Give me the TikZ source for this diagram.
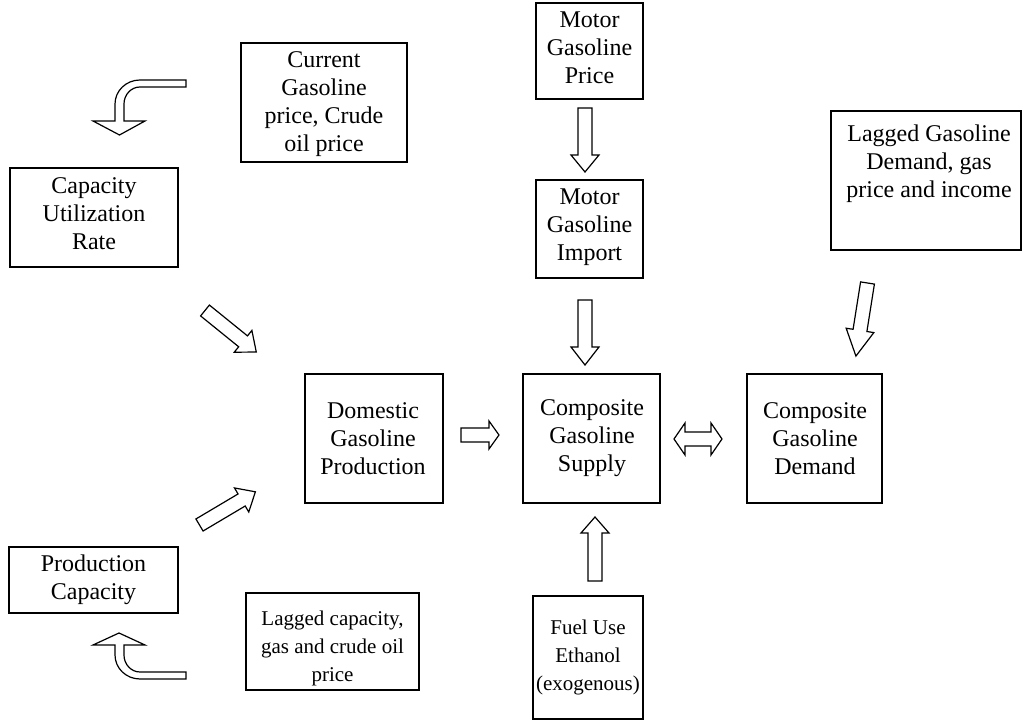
\documentclass[tikz,border=0pt]{standalone}
\usepackage{fontspec}
\setmainfont{Liberation Serif}
\tikzset{
  boxtext/.style={align=center, inner sep=0pt, font=\fontsize{12}{14}\selectfont},
  smalltext/.style={boxtext, font=\fontsize{10.5}{14}\selectfont},
  blockline/.style={draw, line width=0.6pt, fill=white, line join=miter},
  pics/fatarrow/.style n args={2}{code={
    \draw[blockline] (0,-7) -- ({#1-#2},-7) -- ({#1-#2},-14) -- (#1,0)
      -- ({#1-#2},14) -- ({#1-#2},7) -- (0,7) -- cycle;}}
}
\begin{document}
\begin{tikzpicture}[x=0.5pt,y=-0.5pt]
\useasboundingbox (0,0) rectangle (1024,726);
% boxes
\draw[line width=0.6pt] (241,43) rectangle (407,162);
\node[boxtext] (curprice) at (324,104) {Current\\Gasoline\\price, Crude\\oil price};
\draw[line width=0.6pt] (536,3) rectangle (643,99);
\node[boxtext] (mgprice) at (589.5,48) {Motor\\Gasoline\\Price};
\draw[line width=0.6pt] (10,168) rectangle (178,267);
\node[boxtext] (caputil) at (94,214) {Capacity\\Utilization\\Rate};
\draw[line width=0.6pt] (536,180) rectangle (643,278);
\node[boxtext] (mgimport) at (589.5,227) {Motor\\Gasoline\\Import};
\draw[line width=0.6pt] (831,111) rectangle (1021,250);
\node[boxtext] (lagdemand) at (929,164) {Lagged Gasoline\\Demand, gas\\price and income};
\draw[line width=0.6pt] (305,374) rectangle (443,503);
\node[boxtext] (domprod) at (373,438.5) {Domestic\\Gasoline\\Production};
\draw[line width=0.6pt] (523,374) rectangle (660,503);
\node[boxtext] (compsupply) at (592,438.5) {Composite\\Gasoline\\Supply};
\draw[line width=0.6pt] (747,374) rectangle (882,503);
\node[boxtext] (compdemand) at (815,438.5) {Composite\\Gasoline\\Demand};
\draw[line width=0.6pt] (9,547) rectangle (178,613);
\node[boxtext] (prodcap) at (93.5,580) {Production\\Capacity};
\draw[line width=0.6pt] (246,593) rectangle (419,690);
\node[smalltext] (lagcap) at (332.5,648) {Lagged capacity,\\gas and crude oil\\price};
\draw[line width=0.6pt] (533,596) rectangle (643,719);
\node[smalltext] (ethanol) at (588,657.5) {Fuel Use\\Ethanol\\(exogenous)};
% straight block arrows
\pic[rotate=-90] at (585,108) {fatarrow={64}{17}};
\pic[rotate=-90] at (585,300) {fatarrow={65}{18}};
\pic[rotate=90] at (595,581) {fatarrow={64}{16}};
\pic at (461,435) {fatarrow={38}{10}};
\pic[rotate=-39] at (205,310.5) {fatarrow={66}{17}};
\pic[rotate=30.7] at (199.5,525) {fatarrow={65}{16}};
\pic[rotate=-99] at (867.5,283) {fatarrow={74}{26}};
% double arrow
\draw[blockline] (674,439) -- (685,423) -- (685,432) -- (711,432) -- (711,423)
  -- (722,439) -- (711,455) -- (711,446) -- (685,446) -- (685,455) -- cycle;
% curved arrows
\draw[blockline] (119.5,135) -- (145,121) -- (124,121) -- (124,104)
  arc[start angle=180,end angle=270,x radius=16,y radius=17] -- (186,87) -- (186,80)
  -- (140,80) arc[start angle=270,end angle=180,x radius=25,y radius=24]
  -- (115,121) -- (93,121) -- cycle;
\draw[blockline] (119,633) -- (145,645) -- (124,645) -- (124,655)
  arc[start angle=180,end angle=90,x radius=16,y radius=17] -- (186,672) -- (186,679)
  -- (140,679) arc[start angle=90,end angle=180,x radius=25,y radius=24]
  -- (115,645) -- (93,645) -- cycle;
\end{tikzpicture}
\end{document}
